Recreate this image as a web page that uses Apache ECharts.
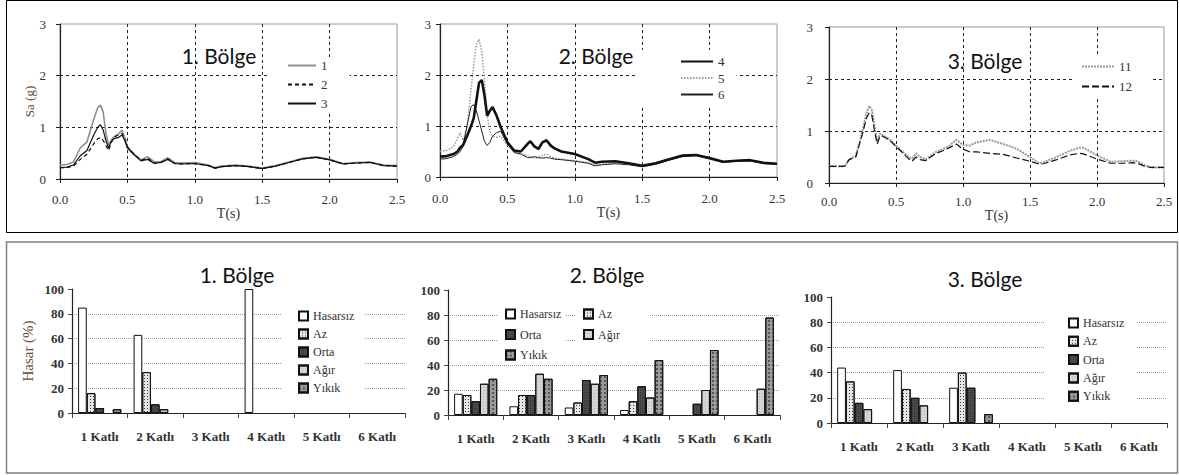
<!DOCTYPE html>
<html>
<head>
<meta charset="utf-8">
<script src="https://cdn.jsdelivr.net/npm/echarts@6/dist/echarts.min.js"></script>
<style>
  html, body { margin: 0; padding: 0; background: #fff; }
  #chart { width: 1179px; height: 475px; }
</style>
</head>
<body>
<div id="chart"></div>
<script>
// ---- Spectral acceleration curves, Sa (g) against period T (s) ----
const periods1 = [0, 0.05, 0.1, 0.15, 0.2, 0.25, 0.28, 0.3, 0.32, 0.34, 0.36, 0.38, 0.4, 0.43, 0.46, 0.48, 0.5, 0.55, 0.6, 0.65, 0.7, 0.75, 0.8, 0.85, 0.9, 1.0, 1.1, 1.15, 1.2, 1.3, 1.4, 1.5, 1.6, 1.7, 1.8, 1.9, 2.0, 2.1, 2.2, 2.3, 2.4, 2.5];
const sa1 = [0.27, 0.28, 0.33, 0.6, 0.72, 1.15, 1.38, 1.43, 1.3, 0.9, 0.65, 0.75, 0.82, 0.86, 0.95, 0.8, 0.63, 0.48, 0.37, 0.43, 0.33, 0.34, 0.41, 0.32, 0.31, 0.32, 0.27, 0.22, 0.25, 0.27, 0.25, 0.21, 0.26, 0.33, 0.4, 0.43, 0.38, 0.3, 0.32, 0.33, 0.27, 0.26];
const sa2 = [0.22, 0.22, 0.25, 0.38, 0.48, 0.68, 0.78, 0.8, 0.75, 0.65, 0.55, 0.7, 0.8, 0.85, 0.88, 0.78, 0.62, 0.48, 0.36, 0.4, 0.31, 0.32, 0.39, 0.3, 0.29, 0.3, 0.26, 0.21, 0.24, 0.26, 0.24, 0.2, 0.25, 0.32, 0.39, 0.42, 0.37, 0.29, 0.31, 0.32, 0.26, 0.25];
const sa3 = [0.22, 0.23, 0.27, 0.45, 0.55, 0.85, 1.0, 1.05, 0.95, 0.75, 0.6, 0.72, 0.78, 0.8, 0.85, 0.75, 0.6, 0.47, 0.35, 0.38, 0.3, 0.32, 0.38, 0.3, 0.29, 0.3, 0.26, 0.21, 0.24, 0.26, 0.24, 0.2, 0.25, 0.32, 0.39, 0.42, 0.37, 0.29, 0.31, 0.32, 0.26, 0.25];

const periods2 = [0, 0.05, 0.1, 0.13, 0.15, 0.17, 0.2, 0.23, 0.25, 0.27, 0.29, 0.31, 0.33, 0.35, 0.37, 0.39, 0.42, 0.45, 0.5, 0.55, 0.6, 0.65, 0.67, 0.7, 0.73, 0.76, 0.79, 0.82, 0.85, 0.9, 1.0, 1.1, 1.15, 1.2, 1.3, 1.4, 1.5, 1.6, 1.7, 1.8, 1.9, 2.0, 2.1, 2.2, 2.3, 2.4, 2.5];
const sa4 = [0.4, 0.41, 0.45, 0.5, 0.58, 0.62, 0.8, 1.0, 1.15, 1.5, 1.85, 1.9, 1.6, 1.2, 1.3, 1.37, 1.2, 0.98, 0.68, 0.52, 0.5, 0.65, 0.7, 0.6, 0.55, 0.68, 0.72, 0.62, 0.56, 0.5, 0.45, 0.35, 0.28, 0.3, 0.31, 0.27, 0.22, 0.27, 0.35, 0.42, 0.43, 0.37, 0.3, 0.32, 0.33, 0.28, 0.26];
const sa5 = [0.5, 0.52, 0.6, 0.75, 0.87, 0.72, 0.95, 1.7, 2.2, 2.6, 2.7, 2.45, 1.9, 1.2, 0.9, 0.8, 0.78, 0.8, 0.62, 0.5, 0.45, 0.42, 0.4, 0.37, 0.38, 0.42, 0.45, 0.4, 0.37, 0.35, 0.32, 0.28, 0.23, 0.25, 0.27, 0.25, 0.21, 0.26, 0.34, 0.41, 0.43, 0.36, 0.29, 0.31, 0.32, 0.27, 0.25];
const sa6 = [0.35, 0.36, 0.4, 0.45, 0.5, 0.6, 1.0, 1.38, 1.42, 1.3, 1.1, 0.9, 0.7, 0.62, 0.68, 0.8, 0.87, 0.9, 0.65, 0.48, 0.45, 0.38, 0.38, 0.4, 0.38, 0.37, 0.38, 0.37, 0.35, 0.34, 0.31, 0.27, 0.22, 0.24, 0.26, 0.24, 0.2, 0.25, 0.33, 0.4, 0.42, 0.36, 0.29, 0.31, 0.32, 0.26, 0.25];

const periods3 = [0, 0.05, 0.1, 0.12, 0.15, 0.2, 0.25, 0.28, 0.3, 0.32, 0.34, 0.36, 0.38, 0.4, 0.45, 0.5, 0.55, 0.6, 0.62, 0.65, 0.68, 0.72, 0.8, 0.85, 0.9, 0.95, 1.0, 1.05, 1.1, 1.2, 1.3, 1.4, 1.5, 1.57, 1.6, 1.7, 1.8, 1.87, 1.9, 2.0, 2.1, 2.2, 2.27, 2.3, 2.35, 2.4, 2.5];
const sa11 = [0.32, 0.32, 0.32, 0.33, 0.45, 0.52, 1.0, 1.35, 1.48, 1.4, 1.1, 0.78, 0.95, 0.92, 0.85, 0.72, 0.6, 0.48, 0.47, 0.57, 0.5, 0.45, 0.6, 0.65, 0.72, 0.83, 0.73, 0.72, 0.78, 0.83, 0.75, 0.66, 0.5, 0.38, 0.4, 0.5, 0.62, 0.68, 0.68, 0.53, 0.41, 0.42, 0.43, 0.42, 0.35, 0.3, 0.3];
const sa12 = [0.32, 0.32, 0.32, 0.33, 0.45, 0.5, 0.95, 1.25, 1.35, 1.3, 1.0, 0.75, 0.9, 0.9, 0.83, 0.7, 0.58, 0.45, 0.42, 0.5, 0.45, 0.43, 0.57, 0.62, 0.68, 0.75, 0.65, 0.6, 0.6, 0.57, 0.55, 0.48, 0.42, 0.36, 0.37, 0.45, 0.54, 0.57, 0.56, 0.46, 0.38, 0.38, 0.39, 0.38, 0.33, 0.3, 0.3];

// ---- Damage distribution (%) by number of storeys ----
const floors = ['1 Katlı', '2 Katlı', '3 Katlı', '4 Katlı', '5 Katlı', '6 Katlı'];
const damageClasses = ['Hasarsız', 'Az', 'Orta', 'Ağır', 'Yıkık'];
// rows follow damageClasses, columns follow floors
const bolge1 = [
  [85, 63, 0, 100, 0, 0],
  [16, 33, 0, 0, 0, 0],
  [4, 7, 0, 0, 0, 0],
  [0, 3, 0, 0, 0, 0],
  [3, 0, 0, 0, 0, 0]
];
const bolge2 = [
  [17, 7, 6, 4, 0, 0],
  [16, 16, 10, 11, 0, 0],
  [11, 16, 28, 23, 9, 0],
  [25, 33, 25, 14, 20, 21],
  [29, 29, 32, 44, 52, 78]
];
const bolge3 = [
  [44, 42, 28, 0, 0, 0],
  [33, 27, 40, 0, 0, 0],
  [16, 20, 28, 0, 0, 0],
  [11, 14, 0, 0, 0, 0],
  [0, 0, 7, 0, 0, 0]
];

// ---- styling ----
const SERIF = 'Liberation Serif, Times New Roman, serif';
const SANS = 'Lato, Open Sans, sans-serif';
const INK = '#333';
const BROWN = '#6e4a34';

const lineGrids = [
  { left: 60, top: 24, width: 337, height: 155 },
  { left: 440, top: 24, width: 337, height: 153 },
  { left: 829, top: 27, width: 335, height: 156 }
];
const barGrids = [
  { left: 72, top: 289, width: 333, height: 124 },
  { left: 448, top: 290, width: 332, height: 125 },
  { left: 831, top: 297, width: 336, height: 126 }
];

const damageStyles = [
  { color: '#ffffff' },
  { color: '#e6e6e6', decal: { symbol: 'rect', symbolSize: 1, color: '#3a3a3a', dashArrayX: [1, 2], dashArrayY: [1, 2] } },
  { color: '#4d4d4d', decal: { symbol: 'rect', symbolSize: 1, color: '#333', dashArrayX: [1, 1], dashArrayY: [1, 1] } },
  { color: '#d6d6d6', decal: { symbol: 'rect', symbolSize: 1, color: '#b0b0b0', dashArrayX: [1, 2], dashArrayY: [1, 2] } },
  { color: '#9a9a9a', decal: { symbol: 'rect', symbolSize: 1, color: '#555', dashArrayX: [2, 2], dashArrayY: [2, 2] } }
];

const xMargins = [14, 15, 12];
const yMargins = [14, 9, 16];
const nameGaps = [14, 16, 18];

const grids = [];
const xAxes = [];
const yAxes = [];
lineGrids.forEach((g, i) => {
  grids.push(Object.assign({ show: true, borderColor: '#9a9a9a', borderWidth: 1, backgroundColor: 'transparent' }, g));
  xAxes.push({
    type: 'value', gridIndex: i, min: 0, max: 2.5, interval: 0.5,
    name: 'T(s)', nameLocation: 'middle', nameGap: nameGaps[i],
    nameTextStyle: { fontFamily: SERIF, fontSize: 14, color: INK },
    axisLine: { show: true, onZero: false, lineStyle: { color: '#222', width: 1.2 } },
    axisTick: { show: true, length: 4, lineStyle: { color: '#222' } },
    axisLabel: { margin: xMargins[i], fontFamily: SERIF, fontSize: 13, color: INK, formatter: v => v.toFixed(1) },
    splitLine: { show: true, showMinLine: false, showMaxLine: false, lineStyle: { color: '#222', type: [3, 3], width: 1 } }
  });
  yAxes.push({
    type: 'value', gridIndex: i, min: 0, max: 3, interval: 1,
    name: i === 0 ? 'Sa (g)' : '', nameLocation: 'middle', nameGap: 23,
    nameTextStyle: { fontFamily: SERIF, fontSize: 13, color: BROWN },
    axisLine: { show: true, onZero: false, lineStyle: { color: '#222', width: 1.2 } },
    axisTick: { show: true, length: 4, lineStyle: { color: '#222' } },
    axisLabel: { margin: yMargins[i], fontFamily: SERIF, fontSize: 13, color: INK },
    splitLine: { show: true, showMinLine: false, showMaxLine: false, lineStyle: { color: '#222', type: [3, 3], width: 1 } }
  });
});
barGrids.forEach((g, i) => {
  grids.push(Object.assign({ show: false }, g));
  xAxes.push({
    type: 'category', gridIndex: 3 + i, data: floors,
    axisLine: { show: true, lineStyle: { color: '#222', width: 1.2 } },
    axisTick: { show: true, length: 5, alignWithLabel: false, lineStyle: { color: '#444' } },
    axisLabel: { margin: 17, fontFamily: SERIF, fontWeight: 'bold', fontSize: 13, color: INK },
    splitLine: { show: false }
  });
  yAxes.push({
    type: 'value', gridIndex: 3 + i, min: 0, max: 100, interval: 20,
    name: i === 0 ? 'Hasar (%)' : '', nameLocation: 'middle', nameGap: 37,
    nameTextStyle: { fontFamily: SERIF, fontSize: 15, color: BROWN },
    axisLine: { show: true, lineStyle: { color: '#222', width: 1.2 } },
    axisTick: { show: true, length: 4, lineStyle: { color: '#444' } },
    axisLabel: { margin: 8, fontFamily: SERIF, fontWeight: 'bold', fontSize: 13, color: INK },
    splitLine: { show: true, showMinLine: false, showMaxLine: false, lineStyle: { color: '#999', type: 'dotted', width: 1 } }
  });
});

function curve(name, idx, periods, values, lineStyle) {
  return {
    type: 'line', name: name, xAxisIndex: idx, yAxisIndex: idx,
    data: periods.map((t, k) => [t, values[k]]),
    symbol: 'none', showSymbol: false, silent: true,
    itemStyle: { color: lineStyle.color },
    lineStyle: lineStyle, z: lineStyle.width > 2 ? 4 : 3
  };
}

const series = [
  curve('1', 0, periods1, sa1, { color: '#8f8f8f', width: 1.6, type: 'solid' }),
  curve('2', 0, periods1, sa2, { color: '#111', width: 1.2, type: [4, 3] }),
  curve('3', 0, periods1, sa3, { color: '#111', width: 1.2, type: 'solid' }),
  curve('4', 1, periods2, sa4, { color: '#111', width: 2.6, type: 'solid' }),
  curve('5', 1, periods2, sa5, { color: '#9a9a9a', width: 1.5, type: [1.5, 1.5] }),
  curve('6', 1, periods2, sa6, { color: '#222', width: 1, type: 'solid' }),
  curve('11', 2, periods3, sa11, { color: '#999', width: 2, type: [2, 1] }),
  curve('12', 2, periods3, sa12, { color: '#111', width: 1.2, type: [7, 3] })
];

// empty classes (0 %) draw no bar
[bolge1, bolge2, bolge3].forEach((rows, r) => {
  rows.forEach((vals, k) => {
    series.push({
      type: 'bar', name: damageClasses[k], xAxisIndex: 3 + r, yAxisIndex: 3 + r,
      data: vals.map(v => (v === 0 ? '-' : v)), barGap: '0%', barCategoryGap: '22%', silent: true,
      itemStyle: Object.assign({ borderColor: '#111', borderWidth: 1 }, damageStyles[k])
    });
  });
});

const lineLegendText = { fontFamily: SERIF, fontSize: 13, color: INK };
const barLegendText = { fontFamily: SERIF, fontSize: 12, color: INK };
// line legends show only the stroke sample
const lineOnly = { opacity: 0, color: 'transparent', borderWidth: 0 };
const legends = [
  { data: ['1', '2', '3'], orient: 'vertical', left: 268, top: 57, itemWidth: 28, itemHeight: 14, itemGap: 6,
    padding: [2, 22, 2, 19], backgroundColor: '#fff', textStyle: lineLegendText, itemStyle: lineOnly, selectedMode: false },
  { data: ['4', '5', '6'], orient: 'vertical', left: 638, top: 50, itemWidth: 32, itemHeight: 14, itemGap: 3.5,
    padding: [5, 12, 5, 42], backgroundColor: '#fff', textStyle: lineLegendText, itemStyle: lineOnly, selectedMode: false },
  { data: ['11', '12'], orient: 'vertical', left: 1072, top: 54, itemWidth: 32, itemHeight: 14, itemGap: 7,
    padding: [6, 20, 6, 9], backgroundColor: '#fff', textStyle: lineLegendText, itemStyle: lineOnly, selectedMode: false },
  { data: damageClasses, orient: 'vertical', left: 282, top: 307, icon: 'rect', itemWidth: 9, itemHeight: 9, itemGap: 6,
    padding: [3, 10, 3, 16], backgroundColor: '#fff', textStyle: barLegendText, selectedMode: false },
  { data: ['Hasarsız', 'Orta', 'Yıkık'], orient: 'vertical', left: 497, top: 304, icon: 'rect', itemWidth: 9, itemHeight: 9, itemGap: 8.5,
    padding: [4, 4, 4, 8], backgroundColor: '#fff', textStyle: barLegendText, selectedMode: false },
  { data: ['Az', 'Ağır'], orient: 'vertical', left: 575, top: 304, icon: 'rect', itemWidth: 9, itemHeight: 9, itemGap: 8.5,
    padding: [4, 30, 4, 8], backgroundColor: '#fff', textStyle: barLegendText, selectedMode: false },
  { data: damageClasses, orient: 'vertical', left: 1045, top: 314, icon: 'rect', itemWidth: 9, itemHeight: 9, itemGap: 6.3,
    padding: [3, 12, 3, 23], backgroundColor: '#fff', textStyle: barLegendText, selectedMode: false }
];

const titles = [
  { text: '1. Bölge', x: 219, y: 55 },
  { text: '2. Bölge', x: 596, y: 55 },
  { text: '3. Bölge', x: 985, y: 60 },
  { text: '1. Bölge', x: 237, y: 274 },
  { text: '2. Bölge', x: 607, y: 274 },
  { text: '3. Bölge', x: 985, y: 278 }
];

const graphic = [
  { type: 'rect', silent: true, z: 0, shape: { x: 6.5, y: 0.5, width: 1171, height: 232 },
    style: { fill: 'none', stroke: '#000', lineWidth: 1 } },
  { type: 'rect', silent: true, z: 0, shape: { x: 6.5, y: 242, width: 1171, height: 231 },
    style: { fill: 'none', stroke: '#808080', lineWidth: 1.5 } }
].concat(titles.map(t => ({
  type: 'text', silent: true, z: 10, x: t.x, y: t.y,
  style: { text: t.text, fill: '#111', font: '21px ' + SANS, textAlign: 'center', textVerticalAlign: 'middle' }
})));

const chart = echarts.init(document.getElementById('chart'), null, { renderer: 'svg' });
chart.setOption({
  backgroundColor: '#fff',
  animation: false,
  grid: grids,
  xAxis: xAxes,
  yAxis: yAxes,
  legend: legends,
  series: series,
  graphic: graphic
});
</script>
</body>
</html>
